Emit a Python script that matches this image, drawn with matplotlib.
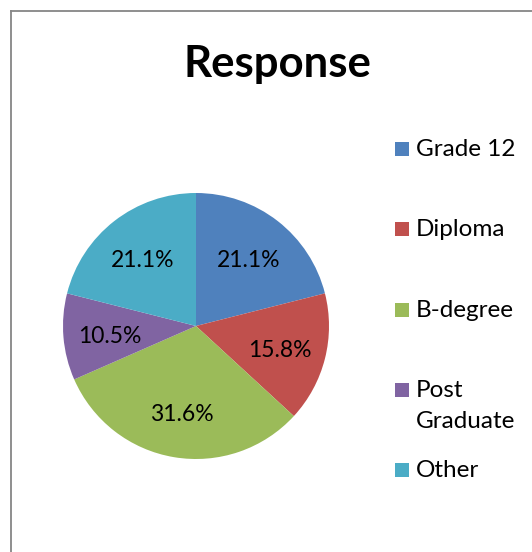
import matplotlib.pyplot as plt
from matplotlib.patches import Rectangle
from matplotlib.lines import Line2D

categories = ["Grade 12", "Diploma", "B-degree", "Post\nGraduate", "Other"]
counts = [4, 3, 6, 2, 4]
colors = ["#4F81BD", "#C0504D", "#9BBB59", "#8064A2", "#4BACC6"]

plt.rcParams['font.family'] = ['Lato', 'DejaVu Sans']

W, H = 532, 552
fig = plt.figure(figsize=(W / 100, H / 100), dpi=100)

# outer chart-area border (only left and top are visible in the crop)
fig.add_artist(Line2D([11 / W, 11 / W], [0, 1 - 11 / H], transform=fig.transFigure,
                      color="#868686", lw=1.3))
fig.add_artist(Line2D([11 / W, 1], [1 - 11 / H, 1 - 11 / H], transform=fig.transFigure,
                      color="#868686", lw=1.3))

# pie: centre (196, 326) px, radius 133 px
cx, cy, r = 196, 326, 133
ax = fig.add_axes([(cx - r) / W, 1 - (cy + r) / H, 2 * r / W, 2 * r / H])
wedges, texts, autotexts = ax.pie(counts, colors=colors, startangle=90, counterclock=False,
                                  autopct='%1.1f%%', pctdistance=0.65,
                                  textprops={'fontsize': 16.5, 'color': 'black'})
# nudge percent labels down a little (font metrics)
for t in autotexts:
    x, y = t.get_position()
    t.set_position((x, y - 3 / r))
ax.set_xlim(-1, 1)
ax.set_ylim(-1, 1)
ax.set_aspect('equal')

fig.text(277 / W, 1 - 64 / H, "Response", ha='center', va='center',
         fontsize=31.5, fontweight='bold')

# legend
for i, (lab, col) in enumerate(zip(categories, colors)):
    y = 149 + 80.3 * i
    fig.add_artist(Rectangle((395 / W, 1 - (y + 7) / H), 14 / W, 14 / H,
                             transform=fig.transFigure, facecolor=col, edgecolor='none'))
    fig.text(416 / W, 1 - (y - 10) / H, lab, ha='left', va='top', fontsize=17.5,
             linespacing=1.6)

fig.savefig("out.png", dpi=100)
